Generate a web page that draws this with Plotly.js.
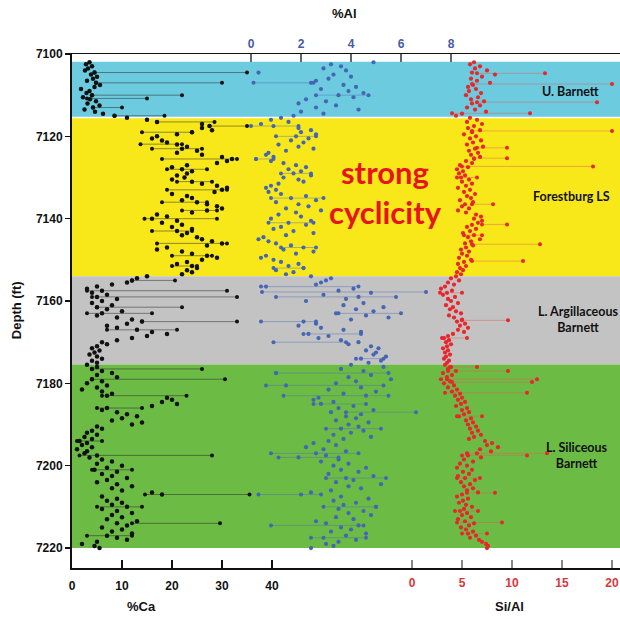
<!DOCTYPE html>
<html><head><meta charset="utf-8">
<script src="https://cdn.plot.ly/plotly-3.0.1.min.js"></script>
<style>html,body{margin:0;padding:0;background:#fff}#chart{width:620px;height:619px}</style>
</head><body><div id="chart"></div>
<script>
// ---- depths of samples (ft) ----
const depth = [
7102,7102.5,7103,7103.5,7104,7104.5,7105,7105.5,7106,7106.5,7107,7107.5,7108,7108.5,7109,7109.5,7110,7110.5,7111,7111.5,
7112,7112.5,7113,7113.5,7114,7114.5,7115,7115.5,7116,7116.5,7117,7117.5,7118,7118.5,7119,7119.5,7120,7120.5,7121,7121.5,
7122,7122.5,7123,7123.5,7124,7124.5,7125,7125.5,7126,7126.5,7127,7127.5,7128,7128.5,7129,7129.5,7130,7130.5,7131,7131.5,
7132,7132.5,7133,7133.5,7134,7134.5,7135,7135.5,7136,7136.5,7137,7137.5,7138,7138.5,7139,7139.5,7140,7140.5,7141,7141.5,
7142,7142.5,7143,7143.5,7144,7144.5,7145,7145.5,7146,7146.5,7147,7147.5,7148,7148.5,7149,7149.5,7150,7150.5,7151,7151.5,
7152,7152.5,7153,7153.5,7154,7154.5,7155,7155.5,7156,7156.5,7157,7157.5,7158,7158.5,7159,7159.5,7160,7160.5,7161,7161.5,
7162,7162.5,7163,7163.5,7164,7164.5,7165,7165.5,7166,7166.5,7167,7167.5,7168,7168.5,7169,7169.5,7170,7170.5,7171,7171.5,
7172,7172.5,7173,7173.5,7174,7174.5,7175,7175.5,7176,7176.5,7177,7177.5,7178,7178.5,7179,7179.5,7180,7180.5,7181,7181.5,
7182,7182.5,7183,7183.5,7184,7184.5,7185,7185.5,7186,7186.5,7187,7187.5,7188,7188.5,7189,7189.5,7190,7190.5,7191,7191.5,
7192,7192.5,7193,7193.5,7194,7194.5,7195,7195.5,7196,7196.5,7197,7197.5,7198,7198.5,7199,7199.5,7200,7200.5,7201,7201.5,
7202,7202.5,7203,7203.5,7204,7204.5,7205,7205.5,7206,7206.5,7207,7207.5,7208,7208.5,7209,7209.5,7210,7210.5,7211,7211.5,
7212,7212.5,7213,7213.5,7214,7214.5,7215,7215.5,7216,7216.5,7217,7217.5,7218,7218.5,7219,7219.5,7220];

// ---- %Ca ----
const ca = [
3.5,2.8,4.0,3.2,2.6,4.5,3.8,5.0,4.2,3.0,4.8,5.6,4.5,1.8,3.5,2.9,4.0,2.2,3.6,4.8,3.1,5.5,4.2,2.5,4.6,6.2,8.5,
11,15,17,26,27.5,26,28,24,21,17,
16,18,19,21,23,22,25,21,26,30,
32,31,29,23,20,22,24,23,21,22.5,
20,24,26,29,31,30,28.5,20,23,24,
22,25,27,29,30,27,24,17,19,16,
21,18,22,20,24,21,23,22,25,26,
28,30,27,19,17,22,24,27,29,26,
23,21,24,25,23,24,22,
15,13,12,11,8,5,3,6,4,7,
5,9,6,4,8,5,7,10,6,5,
9,12,14,11,7,9,13,16,19,15,
12,9,6,7,5,4,5.5,4.5,3.5,5,
6,4,5,
3,5,4,6,8,5,9,4,6,3,
7,5,2,6,8,7,19,20,18,21,
16,7,6,9,11,13,10,8,14,12,
5,6,4,3,5,2.5,4,1.5,3,2,
4,1,3,2.5,5,3.5,6,8,5,10,
7,4.5,9,6,8,11,7,5,9,12,
8,10,16,18,6,9,7,10,8,11,
6,9,12,8,10,7,13,9,11,6,
10,8,12,7,9,11,5,2,4.5,5.5];

// ---- %Al ----
const al = [
4.9,3.2,3.6,2.9,3.8,0.3,3.3,4.0,3.1,2.6,2.4,3.7,4.2,2.8,3.9,4.5,3.5,4.1,2.2,3.0,1.9,3.4,2.6,4.3,2.0,2.9,1.7,
1.2,0.8,1.5,0.4,0.9,1.9,2.4,2.0,2.6,1.8,
2.3,1.6,2.1,1.1,1.9,2.5,1.4,0.7,0.6,0.9,
0.2,0.8,1.3,1.8,2.2,1.5,2.0,1.7,2.4,1.3,
1.9,2.1,1.1,0.8,0.6,1.0,0.7,1.2,2.2,1.6,
2.6,1.0,1.9,2.3,1.4,2.8,1.8,1.1,2.0,0.8,
2.4,1.5,2.2,1.2,0.9,1.7,2.5,1.4,0.5,0.3,
0.7,1.0,1.6,2.1,1.3,2.5,1.8,0.6,0.4,0.9,
1.2,1.9,1.5,2.1,1.0,1.7,1.4,
2.4,3.2,3.0,2.8,2.6,0.6,4.1,3.5,4.8,2.9,
4.3,3.8,2.2,4.5,3.7,5.3,4.2,4.9,3.4,4.6,
5.5,4.0,2.1,2.6,1.9,2.8,3.7,4.4,2.3,3.1,
2.7,3.6,4.3,3.9,4.8,5.1,4.6,5.0,4.9,5.4,
4.4,5.2,4.7,
4.0,5.3,3.6,4.5,1.0,4.8,3.9,5.6,4.2,3.4,
1.4,4.4,3.1,5.0,3.7,4.6,2.7,2.5,3.3,2.8,
4.1,3.5,4.9,3.2,4.4,3.8,4.2,3.4,4.7,3.9,
4.3,3.6,4.5,4.0,3.3,4.8,3.7,3.1,2.5,3.4,
2.2,2.9,3.8,2.6,3.0,1.9,3.5,2.8,3.9,3.3,
4.6,3.6,4.3,3.1,4.9,3.8,4.1,3.4,5.2,3.9,
4.4,3.2,2.4,2.0,3.6,4.7,3.3,4.2,3.7,5.0,
3.5,4.5,3.9,4.8,3.4,4.1,2.6,3.0,4.3,3.6,
4.0,3.2,4.6,3.8,2.9,4.2,3.5,3.0,3.3,2.4];

// ---- Si/Al ----
const siAl = [
6.2,5.8,6.8,6.3,7.5,6.0,8.3,7.0,5.9,6.5,7.8,6.1,5.6,6.4,5.7,6.9,5.4,6.6,5.9,7.2,6.0,6.8,5.5,6.3,7.4,5.0,4.4,
5.8,6.5,5.5,7.0,6.2,5.6,6.8,6.0,5.2,6.4,
5.8,6.9,6.1,5.5,7.1,6.3,5.7,6.6,5.9,6.8,
6.2,5.4,6.0,4.8,5.6,4.5,5.1,4.7,5.3,4.9,
5.7,5.0,6.0,5.4,4.6,5.8,5.2,6.3,5.5,5.9,
4.8,6.1,5.3,5.0,5.7,4.6,5.4,6.4,6.9,6.2,
7.0,6.6,6.0,5.5,6.4,5.8,5.1,6.2,5.6,6.8,
5.9,5.3,6.1,5.4,4.9,5.7,5.0,5.5,4.7,5.9,
5.2,4.6,5.4,4.8,5.1,4.5,4.9,
4.4,3.9,4.7,3.6,4.2,3.3,2.9,4.0,3.5,3.1,
4.3,3.6,3.9,4.6,3.4,4.1,3.8,4.4,4.9,3.7,
4.2,5.0,4.5,5.3,4.8,5.6,4.6,5.2,4.1,3.6,
3.2,3.7,3.4,3.9,3.5,3.1,3.6,3.3,3.8,3.4,
3.2,3.7,3.5,
3.3,3.9,3.6,4.4,3.1,4.0,3.5,2.9,3.8,3.2,
4.2,3.6,4.5,4.0,4.8,4.3,5.0,4.6,5.3,4.9,
4.4,5.5,5.0,5.7,5.2,4.7,5.9,5.4,6.1,5.6,
6.4,5.8,6.6,6.0,6.9,6.2,5.7,7.3,8.0,7.5,
8.6,6.8,7.9,6.5,5.6,6.9,5.2,6.1,4.8,5.5,
4.5,6.0,5.1,5.7,4.6,5.3,6.3,4.9,5.8,5.2,
6.1,5.5,6.6,5.0,4.5,5.6,5.1,4.7,5.4,6.0,
5.2,4.8,5.5,5.0,5.9,4.6,5.3,6.2,5.7,4.9,
5.4,6.1,5.6,6.4,5.8,6.7,7.0,7.4,7.6,7.5];

// ---- paired (same-depth) readings joined by horizontal tie lines ----
const caLinkDepth = [7104.5,7107,7110,7110.8,7113,7115,7116.5,7117.5,7121.9,7125.5,7133,7140,7146,7155,7157.5,7159,7161.5,7165,7176.5,7179,7183,7197.5,7207,7214,
                     7119,7123,7128,7131,7136,7138,7143,7149,7151.5,7163,7167,7186,7194,7201,7210,7217];
const caLinkFrom  = [4.5,4.8,4.0,3.0,4.2,8.5,17,27.5,13.7,18,19,14.5,17,12,3,4,5,14,4,4,6,1.5,14.6,12,
                     14,16,19,21,18,22,16,20,20,3,7,5,1,4,5,3];
const caLinkTo    = [35,30,22,15,10,18.5,28.5,35,22,33,31,29,31,20.6,31,33,22,33,26,30.6,22.9,28,35.5,29.6,
                     24,26,27,28,27,29,24,28,25,16,21,14,6,12,14,12];

const alLinkDepth = [7107,7117.5,7125.5,7156.5,7157.8,7159,7163,7165,7170,7177.5,7180.5,7183,7187,7197,7198,7207,7214.5,
                     7110,7120,7129,7135,7141,7147,7152,7168,7174,7185,7191,7203,7210,7217.5];
const alLinkFrom  = [0.1,0.0,0.2,0.4,0.44,1.0,3.5,0.4,0.9,1.0,0.6,1.3,3.8,0.8,1.1,0.3,0.8,
                     2.6,1.0,1.2,0.8,0.7,1.2,0.9,2.1,4.2,2.5,3.0,3.0,2.9,2.4];
const alLinkTo    = [2.5,1.9,0.9,4.3,7.0,5.8,6.0,2.6,3.8,5.5,5.3,5.5,6.6,4.3,3.5,2.8,4.5,
                     4.7,2.6,2.4,2.9,2.5,2.6,2.1,4.4,5.3,4.6,5.2,5.4,5.0,4.6];

const siLinkDepth = [7104.7,7107.3,7111.7,7114.4,7118.7,7122.8,7125.3,7127.3,7136.5,7141.4,7146.2,7150.3,7164.7,7176,7177,7179,7179.7,7182.3,7197,7197.5,7206.6,7213.8,
                     7130,7144,7158,7169,7188,7203,7211,7216.5];
const siLinkFrom  = [6.5,6.0,6.5,4.0,6.0,6.5,6.2,5.0,6.0,7.0,6.0,6.0,5.0,3.8,3.6,3.5,4.0,3.3,5.5,5.0,5.5,4.5,
                     4.5,5.2,2.8,3.0,4.5,4.5,4.3,5.0];
const siLinkTo    = [13.3,20.0,18.5,11.8,20.0,9.5,9.5,18.1,8.1,9.5,12.8,11.1,9.6,6.5,9.6,12.5,12.0,11.5,13.5,11.5,8.3,9.0,
                     6.5,7.0,5.0,5.5,7.0,6.8,6.6,7.5];

// ---- formation zones ----
const zoneName   = ["U. Barnett","Forestburg LS","L. Argillaceous<br>Barnett","L. Siliceous<br>Barnett"];
const zoneTop    = [7101.9,7115.6,7154.0,7175.4];
const zoneBottom = [7115.25,7154.0,7175.4,7220.0];
const zoneColor  = ["#6ccbdf","#f8e81a","#c3c3c3","#6cbb45"];
const zoneLabelDepth = [7109.2,7134.5,7164.4,7197.6];
const zoneLabelX = [15.8,15.9,16.6,16.5];

const caTicks = [0,10,20,30,40];
const alTicks = [0,2,4,6,8];
const siTicks = [0,5,10,15,20];
const depthTicks = [7100,7120,7140,7160,7180,7200,7220];

[ca, al, siAl].forEach((a,i)=>{ if(a.length!==depth.length) throw new Error("length mismatch "+i+": "+a.length+" vs "+depth.length); });
[[caLinkDepth,caLinkFrom,caLinkTo],[alLinkDepth,alLinkFrom,alLinkTo],[siLinkDepth,siLinkFrom,siLinkTo]].forEach((g,i)=>{
  if(g[0].length!==g[1].length||g[0].length!==g[2].length) throw new Error("link mismatch "+i+": "+g.map(a=>a.length).join(","));
});

function segs(d, f, t){ const x=[],y=[]; for(let i=0;i<d.length;i++){ x.push(f[i],t[i],null); y.push(d[i],d[i],null);} return {x,y}; }
const caS = segs(caLinkDepth, caLinkFrom, caLinkTo);
const alS = segs(alLinkDepth, alLinkFrom, alLinkTo);
const siS = segs(siLinkDepth, siLinkFrom, siLinkTo);

const traces = [
  {x:caS.x, y:caS.y, xaxis:'x', yaxis:'y', mode:'lines+markers', line:{color:'rgba(40,40,40,0.5)', width:1}, marker:{color:'#111', size:4}, hoverinfo:'skip'},
  {x:alS.x, y:alS.y, xaxis:'x3', yaxis:'y', mode:'lines+markers', line:{color:'rgba(80,110,180,0.45)', width:1}, marker:{color:'#4565b5', size:4}, hoverinfo:'skip'},
  {x:siS.x, y:siS.y, xaxis:'x2', yaxis:'y', mode:'lines+markers', line:{color:'rgba(225,90,80,0.45)', width:1}, marker:{color:'#e8262b', size:4}, hoverinfo:'skip'},
  {x:ca, y:depth, xaxis:'x', yaxis:'y', mode:'markers', marker:{color:'#111', size:4.5}, name:'%Ca'},
  {x:al, y:depth, xaxis:'x3', yaxis:'y', mode:'markers', marker:{color:'#4565b5', size:4.2}, name:'%Al'},
  {x:siAl, y:depth, xaxis:'x2', yaxis:'y', mode:'markers', marker:{color:'#e8262b', size:4.2}, name:'Si/Al'}
];

const shapes = zoneName.map((n,i)=>({type:'rect', xref:'paper', yref:'y', x0:0, x1:1, y0:zoneTop[i], y1:zoneBottom[i], fillcolor:zoneColor[i], line:{width:0}, layer:'below'}));

const tickF = {family:'Arial, Liberation Sans, sans-serif', size:12, color:'#111', weight:'bold'};
const titleF = {family:'Arial, Liberation Sans, sans-serif', size:13, color:'#111', weight:'bold'};
const annotations = zoneName.map((n,i)=>({text:n, xref:'x2', yref:'y', x:zoneLabelX[i], y:zoneLabelDepth[i], xanchor:'center', yanchor:'middle', showarrow:false, font:{family:'Lato, sans-serif', size:12.5, color:'#111', weight:'bold'}, align:'center'}));
annotations.push(
  {text:'strong', xref:'x2', yref:'y', x:-2.7, y:7128.7, xanchor:'center', yanchor:'middle', showarrow:false, font:{family:'Lato, sans-serif', size:31, color:'#e8141c', weight:'bold'}},
  {text:'cyclicity', xref:'x2', yref:'y', x:-2.7, y:7138.4, xanchor:'center', yanchor:'middle', showarrow:false, font:{family:'Lato, sans-serif', size:31, color:'#e8141c', weight:'bold'}},
  {text:'%Ca', xref:'paper', yref:'paper', x:0.126, y:-0.074, xanchor:'center', yanchor:'middle', showarrow:false, font:titleF},
  {text:'Si/Al', xref:'paper', yref:'paper', x:0.799, y:-0.074, xanchor:'center', yanchor:'middle', showarrow:false, font:titleF},
  {text:'%Al', xref:'paper', yref:'paper', x:0.4964, y:1.078, xanchor:'center', yanchor:'middle', showarrow:false, font:titleF},
  {text:'Depth (ft)', xref:'paper', yref:'paper', x:-0.1, y:0.502, xanchor:'center', yanchor:'middle', textangle:-90, showarrow:false, font:titleF}
);

const layout = {
  width:620, height:619, margin:{l:72, r:0, t:54, b:51}, showlegend:false,
  paper_bgcolor:'#fff', plot_bgcolor:'#fff',
  xaxis:{range:[0,109.6], tickvals:caTicks, ticks:'inside', ticklen:8, tickwidth:2, tickcolor:'#111', showline:true, linewidth:2, linecolor:'#111', showgrid:false, zeroline:false, tickfont:tickF, ticklabelstandoff:6},
  xaxis2:{range:[-34,20.8], overlaying:'x', side:'bottom', anchor:'y', tickvals:siTicks, ticks:'inside', ticklen:8, tickwidth:1.5, tickcolor:'#888', showline:false, showgrid:false, zeroline:false, tickfont:Object.assign({}, tickF, {color:'#d9373a'}), ticklabelstandoff:6},
  xaxis3:{range:[-7.16,14.76], overlaying:'x', side:'top', anchor:'y', tickvals:alTicks, ticks:'inside', ticklen:8, tickwidth:1.5, tickcolor:'#666', showline:true, linewidth:1.5, linecolor:'#111', showgrid:false, zeroline:false, tickfont:Object.assign({}, tickF, {color:'#4a5aa6'})},
  yaxis:{range:[7224.85,7100], tickvals:depthTicks, ticks:'outside', ticklen:5, tickwidth:1.5, tickcolor:'#111', showline:true, linewidth:2, linecolor:'#111', showgrid:false, zeroline:false, tickfont:tickF},
  shapes:shapes, annotations:annotations
};

Plotly.newPlot('chart', traces, layout, {displayModeBar:false, staticPlot:true});
</script></body></html>
